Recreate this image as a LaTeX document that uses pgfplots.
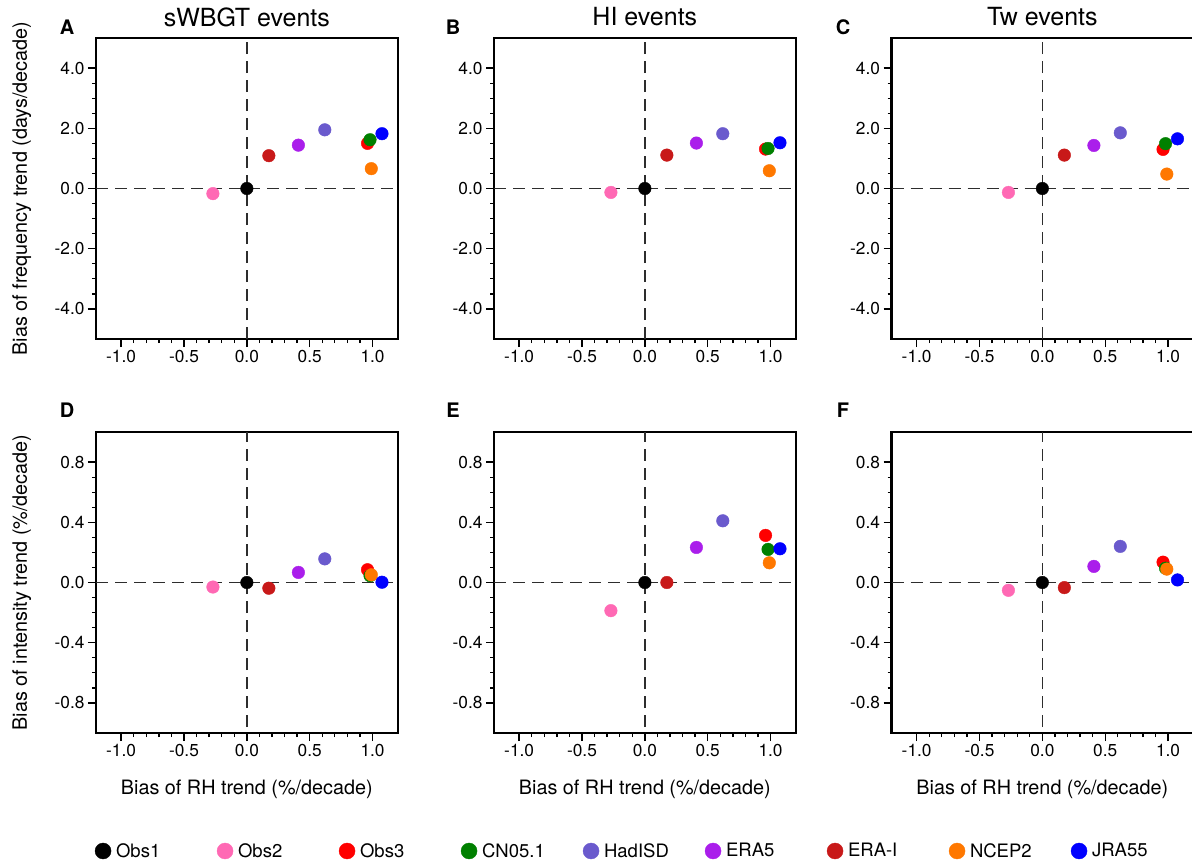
\documentclass[border=0pt]{standalone}
\usepackage{fontspec}
\setmainfont{TeX Gyre Heros}
\usepackage{pgfplots}
\pgfplotsset{compat=1.18}

\definecolor{cobs1}{RGB}{0,0,0}
\definecolor{cobs2}{RGB}{255,105,180}
\definecolor{cobs3}{RGB}{255,0,0}
\definecolor{ccn}{RGB}{0,128,0}
\definecolor{chad}{RGB}{106,90,205}
\definecolor{cera5}{RGB}{170,30,235}
\definecolor{cerai}{RGB}{200,25,25}
\definecolor{cncep}{RGB}{255,120,0}
\definecolor{cjra}{RGB}{0,0,255}
\definecolor{dashgray}{RGB}{45,45,45}

\newcommand{\tickfont}{\fontsize{17.3}{20}\selectfont}
\newcommand{\labfont}{\fontsize{19.8}{22}\selectfont}
\newcommand{\titfont}{\fontsize{25}{28}\selectfont}
\newcommand{\legfont}{\fontsize{18.5}{21}\selectfont}
\newcommand{\legbox}[1]{\makebox[101pt][l]{#1}}

\pgfplotsset{
  panel/.style={
    scale only axis, width=301.7pt, height=301pt,
    xmin=-1.2, xmax=1.2, xtick={-1,-0.5,0,0.5,1}, minor x tick num=4,
    tick pos=left, tick align=outside,
    major tick length=8pt, minor tick length=4pt,
    tick style={black, line width=1.3pt},
    axis line style={line width=2.3pt},
    tick label style={font=\tickfont},
    /pgf/number format/assume math mode=true,
    /pgf/number format/fixed, /pgf/number format/fixed zerofill,
    /pgf/number format/precision=1,
    title style={font=\titfont, at={(axis description cs:0.5,1.05)}, anchor=center},
    label style={font=\labfont},
    ylabel style={at={(axis description cs:-0.246,0.5)}, anchor=center},
    xlabel style={at={(axis description cs:0.5,-0.186)}, anchor=center},
    legend image code/.code={\draw[#1, mark size=8pt] plot coordinates {(8pt,0pt)};},
  },
  freq/.style={panel, ymin=-5, ymax=5, ytick={-4,-2,0,2,4}, minor y tick num=3},
  inten/.style={panel, ymin=-1, ymax=1, ytick={-0.8,-0.4,0,0.4,0.8}, minor y tick num=3},
  dot/.style={only marks, mark=*, mark size=6.3pt, color=#1},
  refline/.style={dashgray, line width=1.3pt, dash pattern=on 12pt off 7pt, forget plot},
}

% one point per data set, in legend order; x = bias of RH trend
\newcommand{\panelpoints}[9]{%
  \addplot[refline] coordinates {(0,-5) (0,5)};
  \addplot[refline] coordinates {(-1.2,0) (1.2,0)};
  \addplot[dot=cobs1] coordinates {(0,#1)};
  \addplot[dot=cobs2] coordinates {(-0.27,#2)};
  \addplot[dot=cobs3] coordinates {(0.96,#3)};
  \addplot[dot=ccn]   coordinates {(0.98,#4)};
  \addplot[dot=chad]  coordinates {(0.62,#5)};
  \addplot[dot=cera5] coordinates {(0.41,#6)};
  \addplot[dot=cerai] coordinates {(0.175,#7)};
  \addplot[dot=cncep] coordinates {(0.99,#8)};
  \addplot[dot=cjra]  coordinates {(1.075,#9)};
}

\begin{document}
\begin{tikzpicture}
% top row: frequency
\begin{axis}[freq, at={(96pt,-339pt)}, anchor=south west,
  title={sWBGT events}, ylabel={Bias of frequency trend (days/decade)}]
\panelpoints{0}{-0.17}{1.50}{1.62}{1.95}{1.44}{1.09}{0.66}{1.82}
\end{axis}
\begin{axis}[freq, at={(494pt,-339pt)}, anchor=south west, title={HI events}]
\panelpoints{0}{-0.13}{1.31}{1.33}{1.82}{1.51}{1.11}{0.59}{1.52}
\end{axis}
\begin{axis}[freq, at={(891.5pt,-339pt)}, anchor=south west, title={Tw events}]
\panelpoints{0}{-0.13}{1.30}{1.49}{1.85}{1.43}{1.11}{0.48}{1.65}
\end{axis}
% bottom row: intensity
\begin{axis}[inten, at={(96pt,-733pt)}, anchor=south west,
  ylabel={Bias of intensity trend (\%/decade)}, xlabel={Bias of RH trend (\%/decade)},
  legend columns=9,
  legend style={at={(axis description cs:-0.003,-0.392)}, anchor=west,
    draw=none, fill=none, inner sep=0pt, outer sep=0pt,
    nodes={inner xsep=0pt, inner ysep=1pt, font=\legfont},
    /tikz/every odd column/.style={column sep=5pt}},
  legend entries={\legbox{Obs1},\legbox{Obs2},\legbox{Obs3},\legbox{CN05.1},\legbox{HadISD},\legbox{ERA5},\legbox{ERA-I},\legbox{NCEP2},\legbox{JRA55}}]
\panelpoints{0}{-0.030}{0.085}{0.045}{0.157}{0.067}{-0.038}{0.051}{0.002}
\end{axis}
\begin{axis}[inten, at={(494pt,-733pt)}, anchor=south west,
  xlabel={Bias of RH trend (\%/decade)}]
\panelpoints{0}{-0.187}{0.313}{0.220}{0.410}{0.233}{0.0}{0.131}{0.224}
\end{axis}
\begin{axis}[inten, at={(891.5pt,-733pt)}, anchor=south west,
  xlabel={Bias of RH trend (\%/decade)}]
\panelpoints{0}{-0.052}{0.135}{0.095}{0.240}{0.107}{-0.034}{0.089}{0.017}
\end{axis}
% panel letters
\foreach \l/\x/\y in {A/67/27, B/453/27, C/843/27, D/67/410, E/453/410, F/843/410}
  \node[font=\bfseries\fontsize{20}{24}\selectfont] at (\x pt,-\y pt) {\l};
\pgfresetboundingbox
\path (0pt,0pt) rectangle (1192pt,-863pt);
\end{tikzpicture}
\end{document}
